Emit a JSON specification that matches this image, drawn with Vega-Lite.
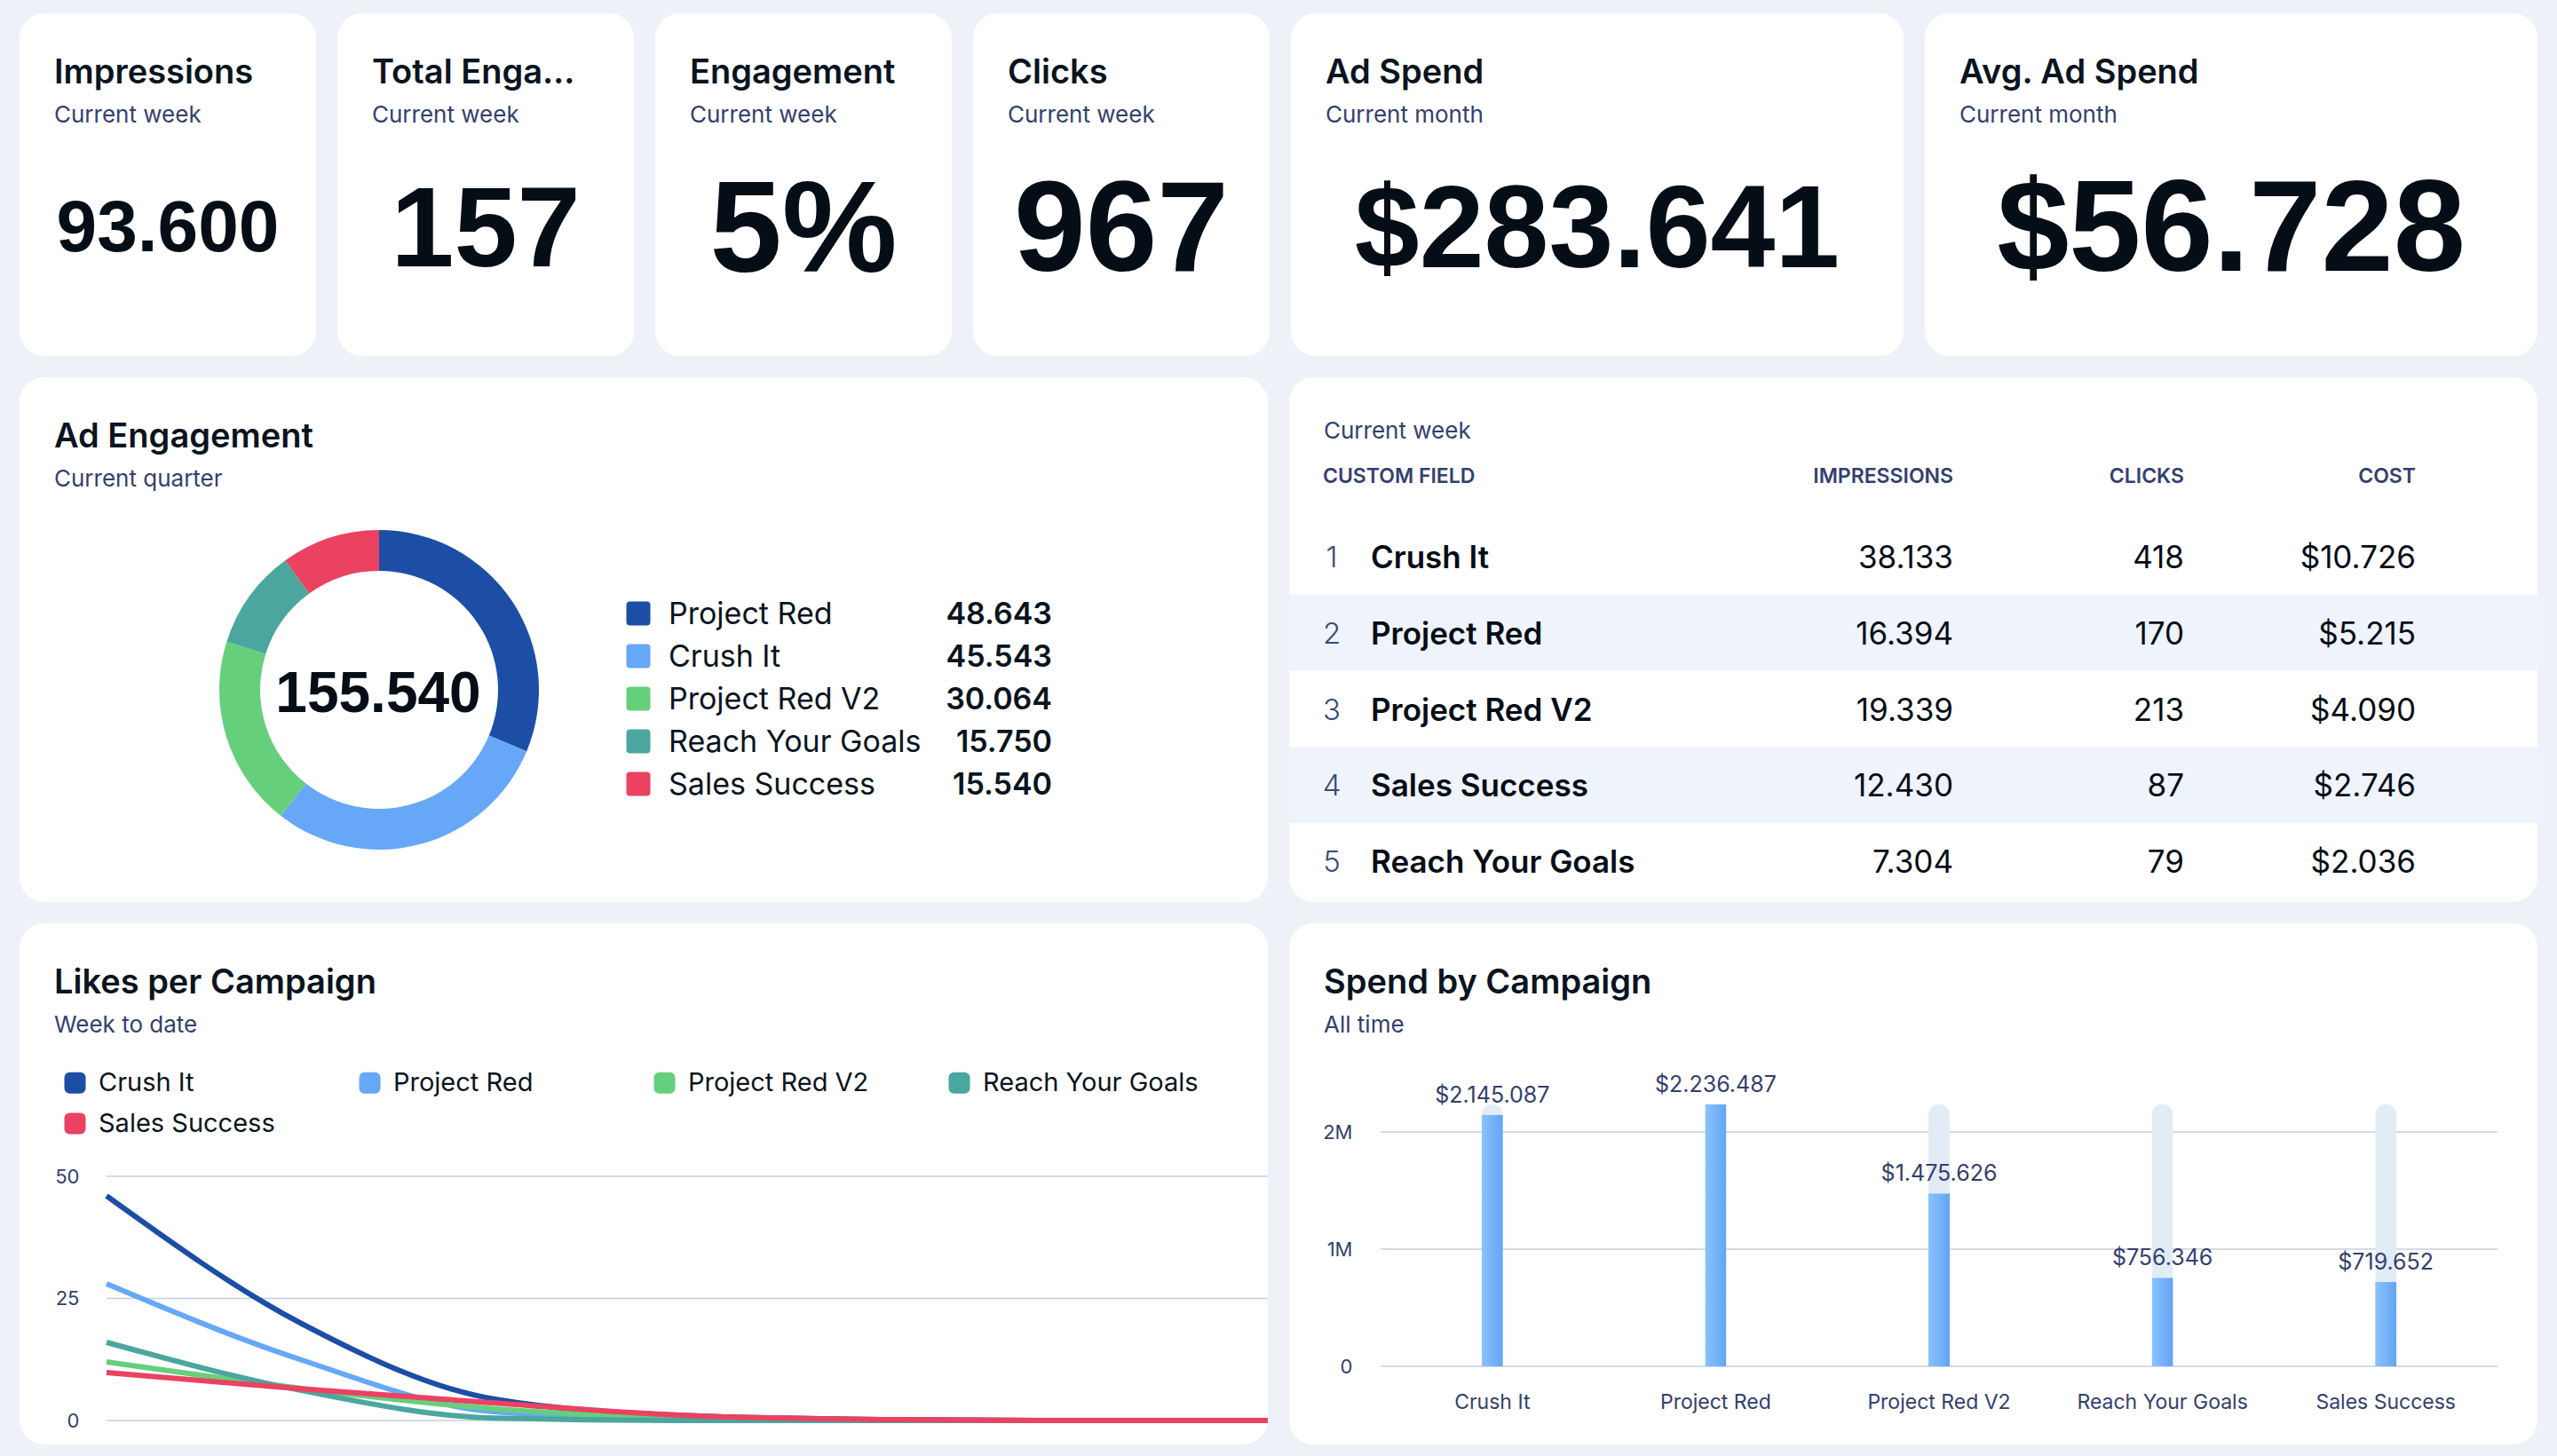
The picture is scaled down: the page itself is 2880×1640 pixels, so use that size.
{
  "$schema": "https://vega.github.io/schema/vega-lite/v6.json",
  "background": "#eef2f8",
  "padding": {"left": 22, "top": 15, "right": 22, "bottom": 13},
  "spacing": 24,
  "resolve": {"scale": {"color": "independent", "x": "independent", "y": "independent"}, "legend": {"color": "independent"}},
  "config": {
    "font": "Inter",
    "view": {"fill": "#ffffff", "stroke": null, "cornerRadius": 28},
    "locale": {"number": {"decimal": ",", "thousands": ".", "grouping": [3], "currency": ["$", ""]}},
    "title": {
      "anchor": "start", "frame": "group", "baseline": "top",
      "font": "Inter", "fontSize": 38, "fontWeight": 600, "color": "#0a1420",
      "subtitleFont": "Inter", "subtitleFontSize": 26, "subtitleFontWeight": 400, "subtitleColor": "#33406d",
      "subtitlePadding": 15, "offset": -128, "dx": 39
    },
    "axis": {"labelFont": "Inter", "labelColor": "#33406d", "domain": false, "ticks": false, "tickSize": 0, "grid": false, "labelLimit": 400}
  },
  "vconcat": [
    {
      "bounds": "flush",
      "spacing": 24,
      "hconcat": [
        {
          "width": 334, "height": 386,
          "view": {"fill": "#ffffff", "stroke": null, "cornerRadius": 28},
          "title": {"text": "Impressions", "subtitle": "Current week"},
          "data": {"values": [{"impressions": 93600}]},
          "mark": {"type": "text", "font": "Liberation Sans", "fontWeight": 700, "fontSize": 82, "baseline": "middle", "dy": 50, "color": "#050d16"},
          "encoding": {"text": {"field": "impressions", "type": "quantitative", "format": ",d"}}
        },
        {
          "width": 334, "height": 386,
          "view": {"fill": "#ffffff", "stroke": null, "cornerRadius": 28},
          "title": {"text": "Total Engagements", "subtitle": "Current week", "limit": 232},
          "data": {"values": [{"engagements": 157}]},
          "mark": {"type": "text", "font": "Liberation Sans", "fontWeight": 700, "fontSize": 128, "baseline": "middle", "dy": 54, "color": "#050d16"},
          "encoding": {"text": {"field": "engagements", "type": "quantitative", "format": ",d"}}
        },
        {
          "width": 334, "height": 386,
          "view": {"fill": "#ffffff", "stroke": null, "cornerRadius": 28},
          "title": {"text": "Engagement", "subtitle": "Current week"},
          "data": {"values": [{"rate": 0.05}]},
          "mark": {"type": "text", "font": "Liberation Sans", "fontWeight": 700, "fontSize": 146, "baseline": "middle", "dy": 54, "color": "#050d16"},
          "encoding": {"text": {"field": "rate", "type": "quantitative", "format": ".0%"}}
        },
        {
          "width": 334, "height": 386,
          "view": {"fill": "#ffffff", "stroke": null, "cornerRadius": 28},
          "title": {"text": "Clicks", "subtitle": "Current week"},
          "data": {"values": [{"clicks": 967}]},
          "mark": {"type": "text", "font": "Liberation Sans", "fontWeight": 700, "fontSize": 145, "baseline": "middle", "dy": 53, "color": "#050d16"},
          "encoding": {"text": {"field": "clicks", "type": "quantitative", "format": ",d"}}
        },
        {
          "width": 690, "height": 386,
          "view": {"fill": "#ffffff", "stroke": null, "cornerRadius": 28},
          "title": {"text": "Ad Spend", "subtitle": "Current month"},
          "data": {"values": [{"spend": 283641}]},
          "mark": {"type": "text", "font": "Liberation Sans", "fontWeight": 700, "fontSize": 131, "baseline": "middle", "dy": 54, "color": "#050d16"},
          "encoding": {"text": {"field": "spend", "type": "quantitative", "format": "$,d"}}
        },
        {
          "width": 690, "height": 386,
          "view": {"fill": "#ffffff", "stroke": null, "cornerRadius": 28},
          "title": {"text": "Avg. Ad Spend", "subtitle": "Current month"},
          "data": {"values": [{"avgSpend": 56728}]},
          "mark": {"type": "text", "font": "Liberation Sans", "fontWeight": 700, "fontSize": 146, "baseline": "middle", "dy": 53, "color": "#050d16"},
          "encoding": {"text": {"field": "avgSpend", "type": "quantitative", "format": "$,d"}}
        }
      ]
    },
    {
      "bounds": "flush",
      "spacing": 24,
      "resolve": {"scale": {"color": "independent", "x": "independent", "y": "independent"}},
      "hconcat": [
        {
          "width": 1406, "height": 591,
          "view": {"fill": "#ffffff", "stroke": null, "cornerRadius": 28},
          "title": {"text": "Ad Engagement", "subtitle": "Current quarter"},
          "data": {"values": [
            {"rank": 1, "campaign": "Project Red", "engagement": 48643},
            {"rank": 2, "campaign": "Crush It", "engagement": 45543},
            {"rank": 3, "campaign": "Project Red V2", "engagement": 30064},
            {"rank": 4, "campaign": "Reach Your Goals", "engagement": 15750},
            {"rank": 5, "campaign": "Sales Success", "engagement": 15540}
          ]},
          "layer": [
            {
              "mark": {"type": "arc", "innerRadius": 134, "outerRadius": 180, "xOffset": -298, "yOffset": 56.5},
              "encoding": {
                "theta": {"field": "engagement", "type": "quantitative", "stack": true},
                "order": {"field": "rank", "type": "quantitative"},
                "color": {
                  "field": "campaign", "type": "nominal", "legend": null,
                  "scale": {
                    "domain": ["Project Red", "Crush It", "Project Red V2", "Reach Your Goals", "Sales Success"],
                    "range": ["#1c4ea6", "#66a8f7", "#66cf7c", "#4aa69e", "#eb4262"]
                  }
                }
              }
            },
            {
              "transform": [{"aggregate": [{"op": "sum", "field": "engagement", "as": "total"}]}],
              "mark": {"type": "text", "font": "Liberation Sans", "fontWeight": 700, "fontSize": 64, "baseline": "middle", "dx": -299, "dy": 62, "color": "#050d16"},
              "encoding": {"text": {"field": "total", "type": "quantitative", "format": ",d"}}
            },
            {
              "mark": {"type": "point", "filled": true, "opacity": 1, "size": 729, "xOffset": -6,
                "shape": "M-0.7,-1L0.7,-1Q1,-1,1,-0.7L1,0.7Q1,1,0.7,1L-0.7,1Q-1,1,-1,0.7L-1,-0.7Q-1,-1,-0.7,-1Z"},
              "encoding": {
                "y": {"field": "rank", "type": "ordinal", "axis": null, "scale": {"type": "point", "range": [266, 458], "padding": 0}},
                "color": {"field": "campaign", "type": "nominal", "legend": null}
              }
            },
            {
              "mark": {"type": "text", "align": "left", "baseline": "middle", "dx": 28, "dy": 2, "fontSize": 34, "fontWeight": 400, "color": "#0a1420"},
              "encoding": {
                "y": {"field": "rank", "type": "ordinal", "axis": null},
                "text": {"field": "campaign", "type": "nominal"}
              }
            },
            {
              "mark": {"type": "text", "align": "right", "baseline": "middle", "dx": 460, "dy": 2, "fontSize": 34, "fontWeight": 600, "color": "#0a1420"},
              "encoding": {
                "y": {"field": "rank", "type": "ordinal", "axis": null},
                "text": {"field": "engagement", "type": "quantitative", "format": ",d"}
              }
            }
          ]
        },
        {
          "width": 1406, "height": 591,
          "view": {"fill": "#ffffff", "stroke": null, "cornerRadius": 28},
          "title": {"text": "Current week", "fontSize": 26, "fontWeight": 400, "color": "#33406d", "offset": -74},
          "data": {"values": [
            {"rank": 1, "campaign": "Crush It", "impressions": 38133, "clicks": 418, "cost": 10726},
            {"rank": 2, "campaign": "Project Red", "impressions": 16394, "clicks": 170, "cost": 5215},
            {"rank": 3, "campaign": "Project Red V2", "impressions": 19339, "clicks": 213, "cost": 4090},
            {"rank": 4, "campaign": "Sales Success", "impressions": 12430, "clicks": 87, "cost": 2746},
            {"rank": 5, "campaign": "Reach Your Goals", "impressions": 7304, "clicks": 79, "cost": 2036}
          ]},
          "layer": [
            {
              "transform": [{"filter": "datum.rank % 2 == 0"}],
              "mark": {"type": "rect", "color": "#eff3fb", "x2Offset": -16},
              "encoding": {
                "y": {"field": "rank", "type": "ordinal", "axis": null, "scale": {"type": "band", "range": [159, 588], "paddingInner": 0, "paddingOuter": 0}}
              }
            },
            {
              "mark": {"type": "text", "align": "center", "baseline": "middle", "dx": -655, "dy": 2, "fontSize": 33, "fontWeight": 300, "color": "#3b4a7a"},
              "encoding": {"y": {"field": "rank", "type": "ordinal", "axis": null}, "text": {"field": "rank", "type": "ordinal"}}
            },
            {
              "mark": {"type": "text", "align": "left", "baseline": "middle", "dx": -611, "dy": 2, "fontSize": 35, "fontWeight": 600, "color": "#050d16"},
              "encoding": {"y": {"field": "rank", "type": "ordinal", "axis": null}, "text": {"field": "campaign", "type": "nominal"}}
            },
            {
              "mark": {"type": "text", "align": "right", "baseline": "middle", "dx": 45, "dy": 2, "fontSize": 35, "fontWeight": 400, "color": "#050d16"},
              "encoding": {"y": {"field": "rank", "type": "ordinal", "axis": null}, "text": {"field": "impressions", "type": "quantitative", "format": ",d"}}
            },
            {
              "mark": {"type": "text", "align": "right", "baseline": "middle", "dx": 305, "dy": 2, "fontSize": 35, "fontWeight": 400, "color": "#050d16"},
              "encoding": {"y": {"field": "rank", "type": "ordinal", "axis": null}, "text": {"field": "clicks", "type": "quantitative", "format": ",d"}}
            },
            {
              "mark": {"type": "text", "align": "right", "baseline": "middle", "dx": 566, "dy": 2, "fontSize": 35, "fontWeight": 400, "color": "#050d16"},
              "encoding": {"y": {"field": "rank", "type": "ordinal", "axis": null}, "text": {"field": "cost", "type": "quantitative", "format": "$,d"}}
            },
            {
              "data": {"values": [{"header": "CUSTOM FIELD"}]},
              "mark": {"type": "text", "align": "left", "baseline": "middle", "dx": -665, "dy": -184, "fontSize": 23, "fontWeight": 600, "color": "#33406d"},
              "encoding": {"text": {"field": "header", "type": "nominal"}}
            },
            {
              "data": {"values": [{"header": "IMPRESSIONS"}]},
              "mark": {"type": "text", "align": "right", "baseline": "middle", "dx": 45, "dy": -184, "fontSize": 23, "fontWeight": 600, "color": "#33406d"},
              "encoding": {"text": {"field": "header", "type": "nominal"}}
            },
            {
              "data": {"values": [{"header": "CLICKS"}]},
              "mark": {"type": "text", "align": "right", "baseline": "middle", "dx": 305, "dy": -184, "fontSize": 23, "fontWeight": 600, "color": "#33406d"},
              "encoding": {"text": {"field": "header", "type": "nominal"}}
            },
            {
              "data": {"values": [{"header": "COST"}]},
              "mark": {"type": "text", "align": "right", "baseline": "middle", "dx": 566, "dy": -184, "fontSize": 23, "fontWeight": 600, "color": "#33406d"},
              "encoding": {"text": {"field": "header", "type": "nominal"}}
            }
          ]
        }
      ]
    },
    {
      "bounds": "flush",
      "spacing": 24,
      "resolve": {"scale": {"color": "independent", "x": "independent", "y": "independent"}, "legend": {"color": "independent"}},
      "hconcat": [
        {
          "width": 1406, "height": 587,
          "view": {"fill": "#ffffff", "stroke": null, "cornerRadius": 28},
          "title": {"text": "Likes per Campaign", "subtitle": "Week to date"},
          "layer": [
            {
              "data": {"values": [{"tick": 0}, {"tick": 25}, {"tick": 50}]},
              "mark": {"type": "rule", "color": "#c6d0df", "strokeWidth": 1.5},
              "encoding": {
                "y": {"field": "tick", "type": "quantitative",
                  "scale": {"domain": [0, 50], "range": [560, 285], "nice": false, "zero": false},
                  "axis": {"values": [0, 25, 50], "offset": -67, "labelPadding": 0, "labelFontSize": 22, "title": null}},
                "x": {"datum": 1, "type": "quantitative", "axis": null},
                "x2": {"datum": 7}
              }
            },
            {
              "data": {"values": [
                {"day": 1, "campaign": "Crush It", "likes": 46},
                {"day": 2, "campaign": "Crush It", "likes": 20},
                {"day": 3, "campaign": "Crush It", "likes": 4.4},
                {"day": 4, "campaign": "Crush It", "likes": 1},
                {"day": 5, "campaign": "Crush It", "likes": 0.2},
                {"day": 6, "campaign": "Crush It", "likes": 0},
                {"day": 7, "campaign": "Crush It", "likes": 0},
                {"day": 1, "campaign": "Project Red", "likes": 28},
                {"day": 2, "campaign": "Project Red", "likes": 12.5},
                {"day": 3, "campaign": "Project Red", "likes": 1.8},
                {"day": 4, "campaign": "Project Red", "likes": 0.2},
                {"day": 5, "campaign": "Project Red", "likes": 0},
                {"day": 6, "campaign": "Project Red", "likes": 0},
                {"day": 7, "campaign": "Project Red", "likes": 0},
                {"day": 1, "campaign": "Project Red V2", "likes": 12},
                {"day": 2, "campaign": "Project Red V2", "likes": 6.6},
                {"day": 3, "campaign": "Project Red V2", "likes": 2.4},
                {"day": 4, "campaign": "Project Red V2", "likes": 0.5},
                {"day": 5, "campaign": "Project Red V2", "likes": 0},
                {"day": 6, "campaign": "Project Red V2", "likes": 0},
                {"day": 7, "campaign": "Project Red V2", "likes": 0},
                {"day": 1, "campaign": "Reach Your Goals", "likes": 16},
                {"day": 2, "campaign": "Reach Your Goals", "likes": 6.2},
                {"day": 3, "campaign": "Reach Your Goals", "likes": 0.5},
                {"day": 4, "campaign": "Reach Your Goals", "likes": 0},
                {"day": 5, "campaign": "Reach Your Goals", "likes": 0},
                {"day": 6, "campaign": "Reach Your Goals", "likes": 0},
                {"day": 7, "campaign": "Reach Your Goals", "likes": 0},
                {"day": 1, "campaign": "Sales Success", "likes": 9.8},
                {"day": 2, "campaign": "Sales Success", "likes": 6.5},
                {"day": 3, "campaign": "Sales Success", "likes": 3.6},
                {"day": 4, "campaign": "Sales Success", "likes": 1},
                {"day": 5, "campaign": "Sales Success", "likes": 0.2},
                {"day": 6, "campaign": "Sales Success", "likes": 0},
                {"day": 7, "campaign": "Sales Success", "likes": 0}
              ]},
              "mark": {"type": "line", "interpolate": "monotone", "strokeWidth": 6},
              "encoding": {
                "x": {"field": "day", "type": "quantitative", "axis": null,
                  "scale": {"domain": [1, 7], "range": [98, 1406], "nice": false, "zero": false}},
                "y": {"field": "likes", "type": "quantitative"},
                "color": {
                  "field": "campaign", "type": "nominal",
                  "scale": {
                    "domain": ["Crush It", "Project Red", "Project Red V2", "Reach Your Goals", "Sales Success"],
                    "range": ["#1c4ea6", "#66a8f7", "#66cf7c", "#4aa69e", "#eb4262"]
                  },
                  "legend": {
                    "orient": "none", "legendX": 48, "legendY": 165, "direction": "horizontal",
                    "columns": 4, "gridAlign": "all", "columnPadding": 48, "rowPadding": 16,
                    "symbolType": "square", "symbolSize": 144, "symbolStrokeWidth": 12,
                    "labelFont": "Inter", "labelFontSize": 29, "labelColor": "#0a1420", "labelOffset": 12, "labelLimit": 500,
                    "title": null,
                    "encode": {"symbols": {"update": {"strokeJoin": {"value": "round"}}}}
                  }
                }
              }
            }
          ]
        },
        {
          "width": 1406, "height": 587,
          "view": {"fill": "#ffffff", "stroke": null, "cornerRadius": 28},
          "title": {"text": "Spend by Campaign", "subtitle": "All time"},
          "resolve": {"scale": {"x": "independent"}, "axis": {"x": "independent"}},
          "layer": [
            {
              "data": {"values": [{"tick": 0}, {"tick": 1000000}, {"tick": 2000000}]},
              "mark": {"type": "rule", "color": "#c6d0df", "strokeWidth": 1.5},
              "encoding": {
                "y": {"field": "tick", "type": "quantitative",
                  "scale": {"domain": [0, 2000000], "range": [499, 235], "nice": false, "zero": false},
                  "axis": {"values": [0, 1000000, 2000000], "labelExpr": "datum.value === 0 ? '0' : format(datum.value, '~s')", "offset": -71, "labelPadding": 0, "labelFontSize": 22, "title": null}},
                "x": {"datum": 0, "type": "quantitative", "axis": null, "scale": {"domain": [0, 1], "range": [103, 1361]}},
                "x2": {"datum": 1}
              }
            },
            {
              "data": {"values": [
                {"campaign": "Crush It", "spend": 2145087},
                {"campaign": "Project Red", "spend": 2236487},
                {"campaign": "Project Red V2", "spend": 1475626},
                {"campaign": "Reach Your Goals", "spend": 756346},
                {"campaign": "Sales Success", "spend": 719652}
              ]},
              "transform": [{"joinaggregate": [{"op": "max", "field": "spend", "as": "maxSpend"}]}],
              "encoding": {
                "x": {"field": "campaign", "type": "nominal", "sort": null,
                  "scale": {"domain": ["Crush It", "Project Red", "Project Red V2", "Reach Your Goals", "Sales Success"], "range": [103, 1361], "paddingInner": 0, "paddingOuter": 0},
                  "axis": {"orient": "bottom", "offset": -88, "labelPadding": 29, "labelAngle": 0, "labelFontSize": 23, "title": null}}
              },
              "layer": [
                {
                  "mark": {"type": "bar", "width": 24, "color": "#e2ecf7", "cornerRadiusEnd": 12},
                  "encoding": {"y": {"field": "maxSpend", "type": "quantitative"}}
                },
                {
                  "mark": {"type": "bar", "width": 24,
                    "cornerRadiusEnd": {"expr": "datum.spend >= datum.maxSpend ? 12 : 0"},
                    "color": {"gradient": "linear", "x1": 0, "y1": 0, "x2": 1, "y2": 0,
                      "stops": [{"offset": 0, "color": "#8ac3fb"}, {"offset": 1, "color": "#62a4f5"}]}},
                  "encoding": {"y": {"field": "spend", "type": "quantitative"}}
                },
                {
                  "mark": {"type": "text", "baseline": "middle", "dy": -22, "fontSize": 25, "color": "#33406d"},
                  "encoding": {
                    "y": {"field": "spend", "type": "quantitative"},
                    "text": {"field": "spend", "type": "quantitative", "format": "$,d"}
                  }
                }
              ]
            }
          ]
        }
      ]
    }
  ]
}
